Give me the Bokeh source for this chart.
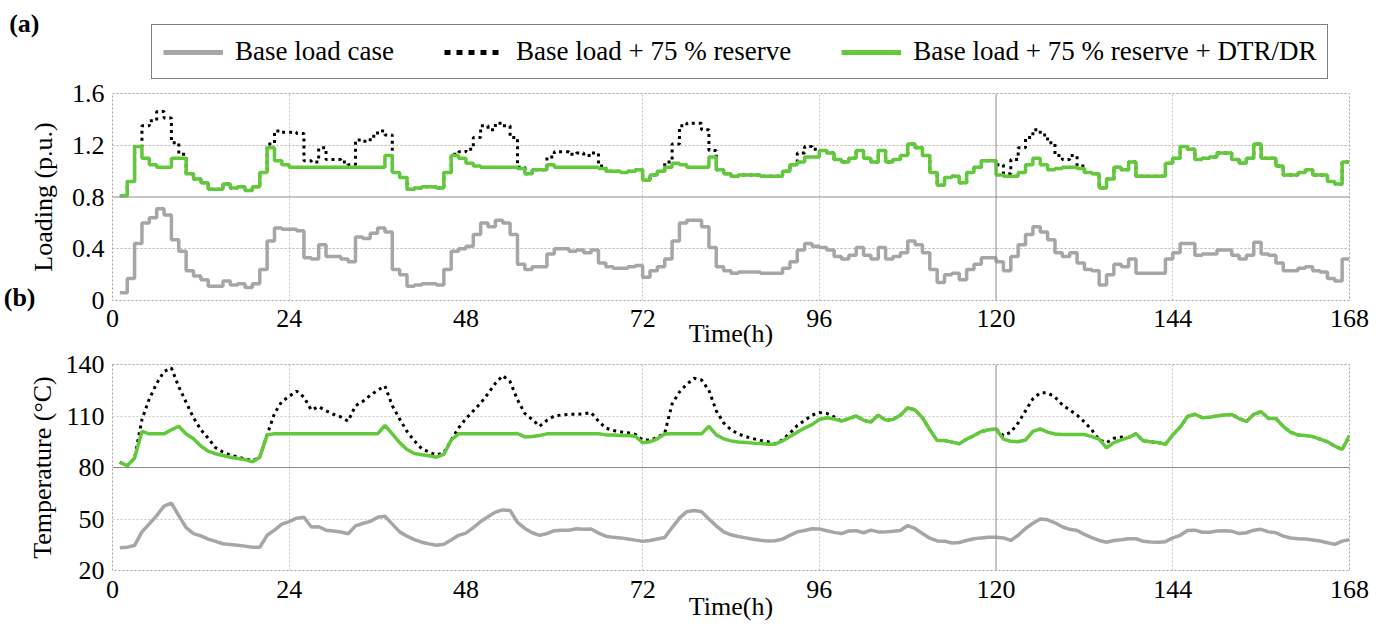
from bokeh.plotting import figure
from bokeh.models import (FixedTicker, Span, Legend, LegendItem, Range1d, LinearAxis)
from bokeh.layouts import column
from bokeh.embed import file_html
from bokeh.resources import INLINE

hours = list(range(1, 169))
x_ticks = [0, 24, 48, 72, 96, 120, 144, 168]
load_ticks = [0, 0.4, 0.8, 1.2, 1.6]
temp_ticks = [20, 50, 80, 110, 140]
legend_labels = ["Base load case", "Base load + 75 % reserve", "Base load + 75 % reserve + DTR/DR"]

base_load = [
    0.06, 0.17, 0.44, 0.60, 0.64, 0.71, 0.66, 0.47, 0.38, 0.23,
    0.19, 0.16, 0.11, 0.11, 0.15, 0.12, 0.13, 0.10, 0.13, 0.24,
    0.46, 0.56, 0.55, 0.55, 0.54, 0.33, 0.32, 0.43, 0.34, 0.34,
    0.32, 0.30, 0.49, 0.48, 0.52, 0.56, 0.53, 0.24, 0.20, 0.11,
    0.12, 0.13, 0.13, 0.12, 0.24, 0.38, 0.40, 0.42, 0.51, 0.60,
    0.57, 0.62, 0.60, 0.51, 0.28, 0.24, 0.26, 0.26, 0.36, 0.40,
    0.40, 0.38, 0.39, 0.37, 0.39, 0.29, 0.26, 0.25, 0.25, 0.26,
    0.27, 0.18, 0.23, 0.26, 0.32, 0.46, 0.60, 0.62, 0.62, 0.57,
    0.41, 0.26, 0.23, 0.21, 0.22, 0.22, 0.22, 0.21, 0.21, 0.21,
    0.25, 0.30, 0.39, 0.44, 0.42, 0.41, 0.39, 0.34, 0.32, 0.35,
    0.41, 0.35, 0.32, 0.41, 0.32, 0.34, 0.37, 0.46, 0.43, 0.37,
    0.24, 0.14, 0.20, 0.21, 0.16, 0.24, 0.28, 0.33, 0.33, 0.30,
    0.23, 0.34, 0.43, 0.51, 0.57, 0.53, 0.47, 0.37, 0.34, 0.37,
    0.29, 0.24, 0.23, 0.12, 0.20, 0.28, 0.26, 0.32, 0.21, 0.21,
    0.21, 0.21, 0.32, 0.37, 0.44, 0.44, 0.35, 0.36, 0.36, 0.39,
    0.39, 0.35, 0.32, 0.35, 0.45, 0.36, 0.35, 0.29, 0.23, 0.23,
    0.25, 0.26, 0.23, 0.22, 0.17, 0.15, 0.32, 0.32]

reserve_load = [
    0.81, 0.92, 1.19, 1.35, 1.39, 1.46, 1.41, 1.22, 1.13, 0.98,
    0.94, 0.91, 0.86, 0.86, 0.90, 0.87, 0.88, 0.85, 0.88, 0.99,
    1.21, 1.31, 1.30, 1.30, 1.29, 1.08, 1.07, 1.18, 1.09, 1.09,
    1.07, 1.05, 1.24, 1.23, 1.27, 1.31, 1.28, 0.99, 0.95, 0.86,
    0.87, 0.88, 0.88, 0.87, 0.99, 1.13, 1.15, 1.17, 1.26, 1.35,
    1.32, 1.37, 1.35, 1.26, 1.03, 0.98, 1.01, 1.01, 1.11, 1.15,
    1.15, 1.13, 1.14, 1.12, 1.14, 1.04, 1.00, 1.00, 0.99, 1.00,
    1.01, 0.93, 0.97, 1.00, 1.07, 1.21, 1.35, 1.37, 1.37, 1.32,
    1.16, 1.01, 0.98, 0.96, 0.97, 0.97, 0.97, 0.96, 0.96, 0.96,
    1.00, 1.05, 1.14, 1.19, 1.17, 1.16, 1.14, 1.09, 1.07, 1.10,
    1.16, 1.10, 1.07, 1.16, 1.07, 1.09, 1.12, 1.21, 1.18, 1.12,
    0.99, 0.89, 0.95, 0.96, 0.91, 0.99, 1.03, 1.08, 1.08, 1.05,
    0.98, 1.09, 1.18, 1.26, 1.32, 1.28, 1.22, 1.12, 1.09, 1.12,
    1.04, 0.99, 0.98, 0.87, 0.94, 1.03, 1.01, 1.07, 0.96, 0.96,
    0.96, 0.96, 1.06, 1.10, 1.19, 1.17, 1.09, 1.10, 1.11, 1.14,
    1.14, 1.09, 1.06, 1.10, 1.21, 1.10, 1.10, 1.04, 0.97, 0.97,
    0.99, 1.01, 0.97, 0.97, 0.92, 0.90, 1.07, 1.07]

dtr_load = [
    0.81, 0.92, 1.19, 1.10, 1.05, 1.03, 1.03, 1.10, 1.10, 0.98,
    0.94, 0.91, 0.86, 0.86, 0.90, 0.87, 0.88, 0.85, 0.88, 0.99,
    1.18, 1.08, 1.05, 1.03, 1.03, 1.03, 1.03, 1.03, 1.03, 1.03,
    1.03, 1.03, 1.03, 1.03, 1.03, 1.03, 1.12, 0.99, 0.95, 0.86,
    0.87, 0.88, 0.88, 0.87, 0.99, 1.12, 1.10, 1.06, 1.04, 1.03,
    1.03, 1.03, 1.03, 1.03, 1.02, 0.98, 1.01, 1.01, 1.05, 1.03,
    1.03, 1.03, 1.03, 1.03, 1.03, 1.02, 1.00, 1.00, 0.99, 1.00,
    1.01, 0.93, 0.97, 1.00, 1.03, 1.06, 1.05, 1.03, 1.03, 1.03,
    1.11, 1.01, 0.98, 0.96, 0.97, 0.97, 0.97, 0.96, 0.96, 0.96,
    1.00, 1.05, 1.07, 1.11, 1.11, 1.16, 1.14, 1.09, 1.07, 1.10,
    1.16, 1.10, 1.07, 1.16, 1.07, 1.09, 1.12, 1.21, 1.18, 1.12,
    0.99, 0.89, 0.95, 0.96, 0.91, 0.99, 1.03, 1.08, 1.08, 0.97,
    0.96, 0.96, 0.99, 1.05, 1.10, 1.05, 1.01, 1.02, 1.03, 1.03,
    1.02, 0.99, 0.98, 0.87, 0.94, 1.03, 1.01, 1.07, 0.96, 0.96,
    0.96, 0.96, 1.06, 1.10, 1.19, 1.17, 1.09, 1.10, 1.11, 1.14,
    1.14, 1.09, 1.06, 1.10, 1.21, 1.10, 1.10, 1.04, 0.97, 0.97,
    0.99, 1.01, 0.97, 0.97, 0.92, 0.90, 1.07, 1.07]

base_temp = [
    33.2, 33.6, 34.6, 42.5, 47.2, 52.0, 57.5, 59.2, 52.0, 45.0,
    41.5, 40.2, 38.3, 37.0, 35.6, 35.2, 34.7, 34.2, 33.5, 33.5,
    40.5, 43.5, 47.0, 48.5, 50.5, 51.0, 45.3, 45.5, 43.5, 43.0,
    42.4, 41.4, 46.0, 47.4, 48.6, 51.0, 51.6, 47.0, 42.5, 40.0,
    38.0, 36.5, 35.5, 34.7, 35.3, 37.8, 40.5, 41.8, 45.0, 48.5,
    51.3, 54.0, 55.3, 55.0, 48.0, 44.5, 42.0, 40.5, 41.5, 43.2,
    43.4, 43.5, 44.3, 44.0, 44.2, 41.8, 40.0, 39.3, 39.0, 38.4,
    37.7, 37.1, 37.5, 38.4, 39.2, 45.0, 50.5, 54.3, 55.0, 54.2,
    50.0, 46.0, 42.5, 40.8, 39.8, 39.0, 38.2, 37.6, 37.2, 37.3,
    38.3, 40.5, 42.5, 43.3, 44.3, 44.2, 43.2, 42.2, 41.5, 43.0,
    43.2, 42.0, 43.5, 42.5, 42.5, 42.8, 43.3, 46.2, 44.5, 41.5,
    38.8, 37.2, 37.1, 36.0, 36.3, 37.5, 38.5, 39.0, 39.3, 39.4,
    39.0, 37.5, 40.5, 44.5, 47.5, 50.0, 49.5, 47.8, 45.5, 44.0,
    43.3, 41.0, 39.2, 37.5, 36.5, 37.5, 37.9, 38.5, 38.5, 37.0,
    36.6, 36.4, 36.8, 39.0, 40.5, 43.3, 43.5, 42.3, 42.3, 43.0,
    43.1, 42.9, 41.5, 42.0, 43.5, 44.0, 42.5, 42.0, 40.0, 38.9,
    38.5, 38.4, 37.8, 37.2, 36.2, 35.2, 37.1, 38.0]

reserve_temp = [
    83.1, 81.0, 85.5, 108.0, 120.0, 129.0, 136.0, 138.0, 127.0, 118.0,
    109.0, 102.0, 97.0, 91.5, 89.0, 87.2, 86.2, 85.0, 84.0, 86.0,
    99.0, 111.5, 118.5, 121.5, 124.5, 121.0, 113.5, 115.5, 113.0, 111.0,
    109.5, 107.0, 116.0, 118.5, 122.0, 125.0, 127.5, 116.0, 108.3, 101.0,
    95.5, 91.0, 88.9, 87.3, 88.5, 96.0, 103.0, 108.5, 113.0, 117.5,
    123.0, 129.0, 133.5, 130.0, 119.5, 111.5, 108.0, 104.0, 107.5, 110.0,
    110.6, 111.0, 111.0, 111.3, 112.0, 107.0, 103.0, 101.5, 100.8, 100.2,
    99.3, 96.0, 96.0, 97.5, 100.0, 117.0, 124.0, 128.5, 132.0, 131.0,
    125.0, 113.0, 106.0, 102.0, 99.5, 98.0, 96.8, 95.8, 95.0, 93.8,
    96.2, 100.0, 104.5, 107.4, 110.5, 112.0, 111.5, 109.5, 107.0, 108.5,
    110.0, 107.5, 106.5, 110.5, 107.6, 108.0, 110.5, 114.8, 113.5, 109.0,
    102.0, 95.7, 95.7, 94.8, 93.8, 96.5, 98.6, 101.0, 102.0, 102.5,
    98.5, 100.5, 106.0, 113.0, 120.0, 123.5, 123.5, 121.0, 116.5, 113.5,
    110.5, 106.5, 102.0, 96.0, 94.5, 97.0, 97.7, 97.5, 99.6, 95.5,
    95.0, 94.5, 93.5, 99.0, 103.5, 109.7, 111.0, 109.0, 109.3, 110.0,
    110.6, 110.9, 108.5, 106.8, 111.0, 112.5, 108.5, 108.5, 104.0, 100.5,
    99.0, 98.6, 98.0, 96.5, 95.0, 92.5, 90.5, 98.6]

dtr_temp = [
    83.1, 81.0, 85.5, 101.0, 99.6, 99.6, 99.6, 102.0, 104.0, 99.5,
    96.8, 92.5, 89.5, 88.0, 87.0, 86.0, 85.3, 84.6, 83.3, 86.0,
    99.0, 99.6, 99.6, 99.6, 99.6, 99.6, 99.6, 99.6, 99.6, 99.6,
    99.6, 99.6, 99.6, 99.6, 99.6, 99.6, 104.5, 99.6, 94.5, 90.5,
    88.2, 87.4, 86.8, 86.0, 87.6, 96.0, 99.6, 99.6, 99.6, 99.6,
    99.6, 99.6, 99.6, 99.6, 99.8, 97.8, 98.0, 98.6, 99.6, 99.6,
    99.6, 99.6, 99.6, 99.6, 99.6, 99.6, 99.0, 99.0, 98.6, 98.6,
    98.2, 94.4, 95.0, 96.7, 99.5, 99.6, 99.6, 99.6, 99.6, 99.6,
    104.0, 99.0, 96.7, 95.5, 94.8, 94.5, 94.2, 94.0, 93.6, 93.6,
    95.5, 98.0, 100.6, 103.0, 105.0, 108.0, 109.0, 108.3, 107.0, 108.5,
    110.0, 107.5, 106.5, 110.5, 107.6, 108.0, 110.5, 114.8, 113.5, 109.0,
    102.0, 95.7, 95.7, 94.8, 93.8, 96.5, 98.6, 101.0, 102.0, 102.5,
    96.5, 95.3, 95.0, 96.0, 101.0, 102.5, 100.6, 99.5, 99.2, 99.2,
    99.2, 99.2, 98.0, 96.5, 91.5, 94.5, 96.1, 97.5, 99.6, 95.5,
    95.0, 94.5, 93.5, 99.0, 103.5, 109.7, 111.0, 109.0, 109.3, 110.0,
    110.6, 110.9, 108.5, 106.8, 111.0, 112.5, 108.5, 108.5, 104.0, 100.5,
    99.0, 98.6, 98.0, 96.5, 95.0, 92.5, 90.5, 98.6]

GRAY = "#a6a6a6"
GREEN = "#62c93a"
FONT = "Liberation Serif"
FS = "26px"
W = 1397
NAN = float("nan")


def plain_axis(ax):
    ax.axis_line_color = None
    ax.major_tick_line_color = None
    ax.minor_tick_line_color = None
    ax.major_tick_out = 0
    ax.major_tick_in = 0
    ax.minor_tick_out = 0
    ax.minor_tick_in = 0
    ax.major_label_text_font = FONT
    ax.major_label_text_font_size = FS
    ax.major_label_text_color = "black"
    ax.axis_label_text_font = FONT
    ax.axis_label_text_font_size = FS
    ax.axis_label_text_font_style = "normal"
    ax.axis_label_text_color = "black"


def style(p, yticks, ylabel, grid_y, solid_y, ylab_standoff, xtick_standoff, xlab_standoff):
    p.background_fill_color = "white"
    p.border_fill_color = "white"
    p.outline_line_color = "#a0a0a0"
    p.outline_line_dash = "2 2"
    p.outline_line_width = 1
    plain_axis(p.xaxis[0])
    plain_axis(p.yaxis[0])
    p.xaxis.ticker = FixedTicker(ticks=x_ticks)
    p.xaxis.major_label_overrides = {t: str(t) for t in x_ticks}
    p.xaxis.axis_label = "Time(h)"
    p.xaxis.major_label_standoff = xtick_standoff
    p.xaxis.axis_label_standoff = xlab_standoff
    p.yaxis.ticker = FixedTicker(ticks=yticks)
    p.yaxis.major_label_overrides = {t: ("0" if t == 0 else f"{t:g}") for t in yticks}
    p.yaxis.axis_label = ylabel
    p.yaxis.major_label_standoff = 8
    p.yaxis.axis_label_standoff = ylab_standoff
    p.xgrid.ticker = FixedTicker(ticks=[24, 72, 96, 144])
    p.xgrid.grid_line_color = "#c4c4c4"
    p.xgrid.grid_line_dash = "2 2"
    p.ygrid.ticker = FixedTicker(ticks=grid_y)
    p.ygrid.grid_line_color = "#b4b4b4"
    p.ygrid.grid_line_dash = "2 2"
    p.add_layout(Span(location=solid_y, dimension="width", line_color="#8c8c8c", line_width=1))
    p.add_layout(Span(location=120, dimension="height", line_color="#8c8c8c", line_width=1))


def tag_axis(value, text, standoff):
    ax = LinearAxis(ticker=FixedTicker(ticks=[value]), major_label_overrides={value: text},
                    major_label_standoff=standoff)
    plain_axis(ax)
    ax.major_label_text_font_style = "bold"
    return ax


# ---------------- header strip: panel tag (a) + legend ----------------
STRIP_H = 80
ps = figure(width=W, height=STRIP_H, x_range=Range1d(0, 1), y_range=Range1d(0, STRIP_H),
            output_backend="svg", toolbar_location=None, title=None,
            x_axis_type=None, y_axis_type=None,
            min_border_left=111, min_border_right=48, min_border_top=0, min_border_bottom=0)
ps.outline_line_color = None
ps.background_fill_color = "white"
ps.border_fill_color = "white"
ps.add_layout(tag_axis(STRIP_H - 23, "(a)", 73), "left")
lg_gray = ps.line([NAN], [NAN], line_color=GRAY, line_width=5)
lg_black = ps.line([NAN], [NAN], line_color="black", line_width=5, line_dash="6 6")
lg_green = ps.line([NAN], [NAN], line_color=GREEN, line_width=5)
legend = Legend(items=[LegendItem(label=legend_labels[0], renderers=[lg_gray]),
                       LegendItem(label=legend_labels[1], renderers=[lg_black]),
                       LegendItem(label=legend_labels[2], renderers=[lg_green])],
                location=(39, 1), orientation="horizontal",
                label_text_font=FONT, label_text_font_size="27px", label_text_color="black",
                glyph_width=60, glyph_height=20, label_standoff=12, spacing=50,
                padding=11, margin=0, border_line_color="black", border_line_width=1,
                background_fill_color="white", background_fill_alpha=1.0)
ps.add_layout(legend)

# ---------------- (a) loading ----------------
p1 = figure(width=W, height=270, x_range=Range1d(0, 168), y_range=Range1d(0, 1.6),
            output_backend="svg", toolbar_location=None, title=None,
            min_border_left=111, min_border_right=48, min_border_top=13, min_border_bottom=49)
style(p1, load_ticks, "Loading (p.u.)", [0.4, 1.2], 0.8, 11, 9, -11)

p1.step(hours, base_load, mode="after", line_color=GRAY, line_width=3.5)
p1.step(hours, reserve_load, mode="after", line_color="black", line_width=3, line_dash="3 4")
p1.step(hours, dtr_load, mode="after", line_color=GREEN, line_width=3.5)

# panel tag (b), shown as an outer left-axis label of the loading panel
p1.add_layout(tag_axis(0.023, "(b)", -10), "left")

# ---------------- (b) temperature ----------------
p2 = figure(width=W, height=275, x_range=Range1d(0, 168), y_range=Range1d(20, 140),
            output_backend="svg", toolbar_location=None, title=None,
            min_border_left=111, min_border_right=48, min_border_top=14, min_border_bottom=55)
style(p2, temp_ticks, "Temperature (°C)", [50, 110], 80, 6, 10, -9)
p2.ygrid.grid_line_color = "#c8c8c8"

p2.line(hours, base_temp, line_color=GRAY, line_width=3.5)
p2.line(hours, reserve_temp, line_color="black", line_width=3, line_dash="3 4")
p2.line(hours, dtr_temp, line_color=GREEN, line_width=3.5)

page = column(ps, p1, p2, spacing=0)
open("out.html", "w").write(file_html(page, INLINE))
